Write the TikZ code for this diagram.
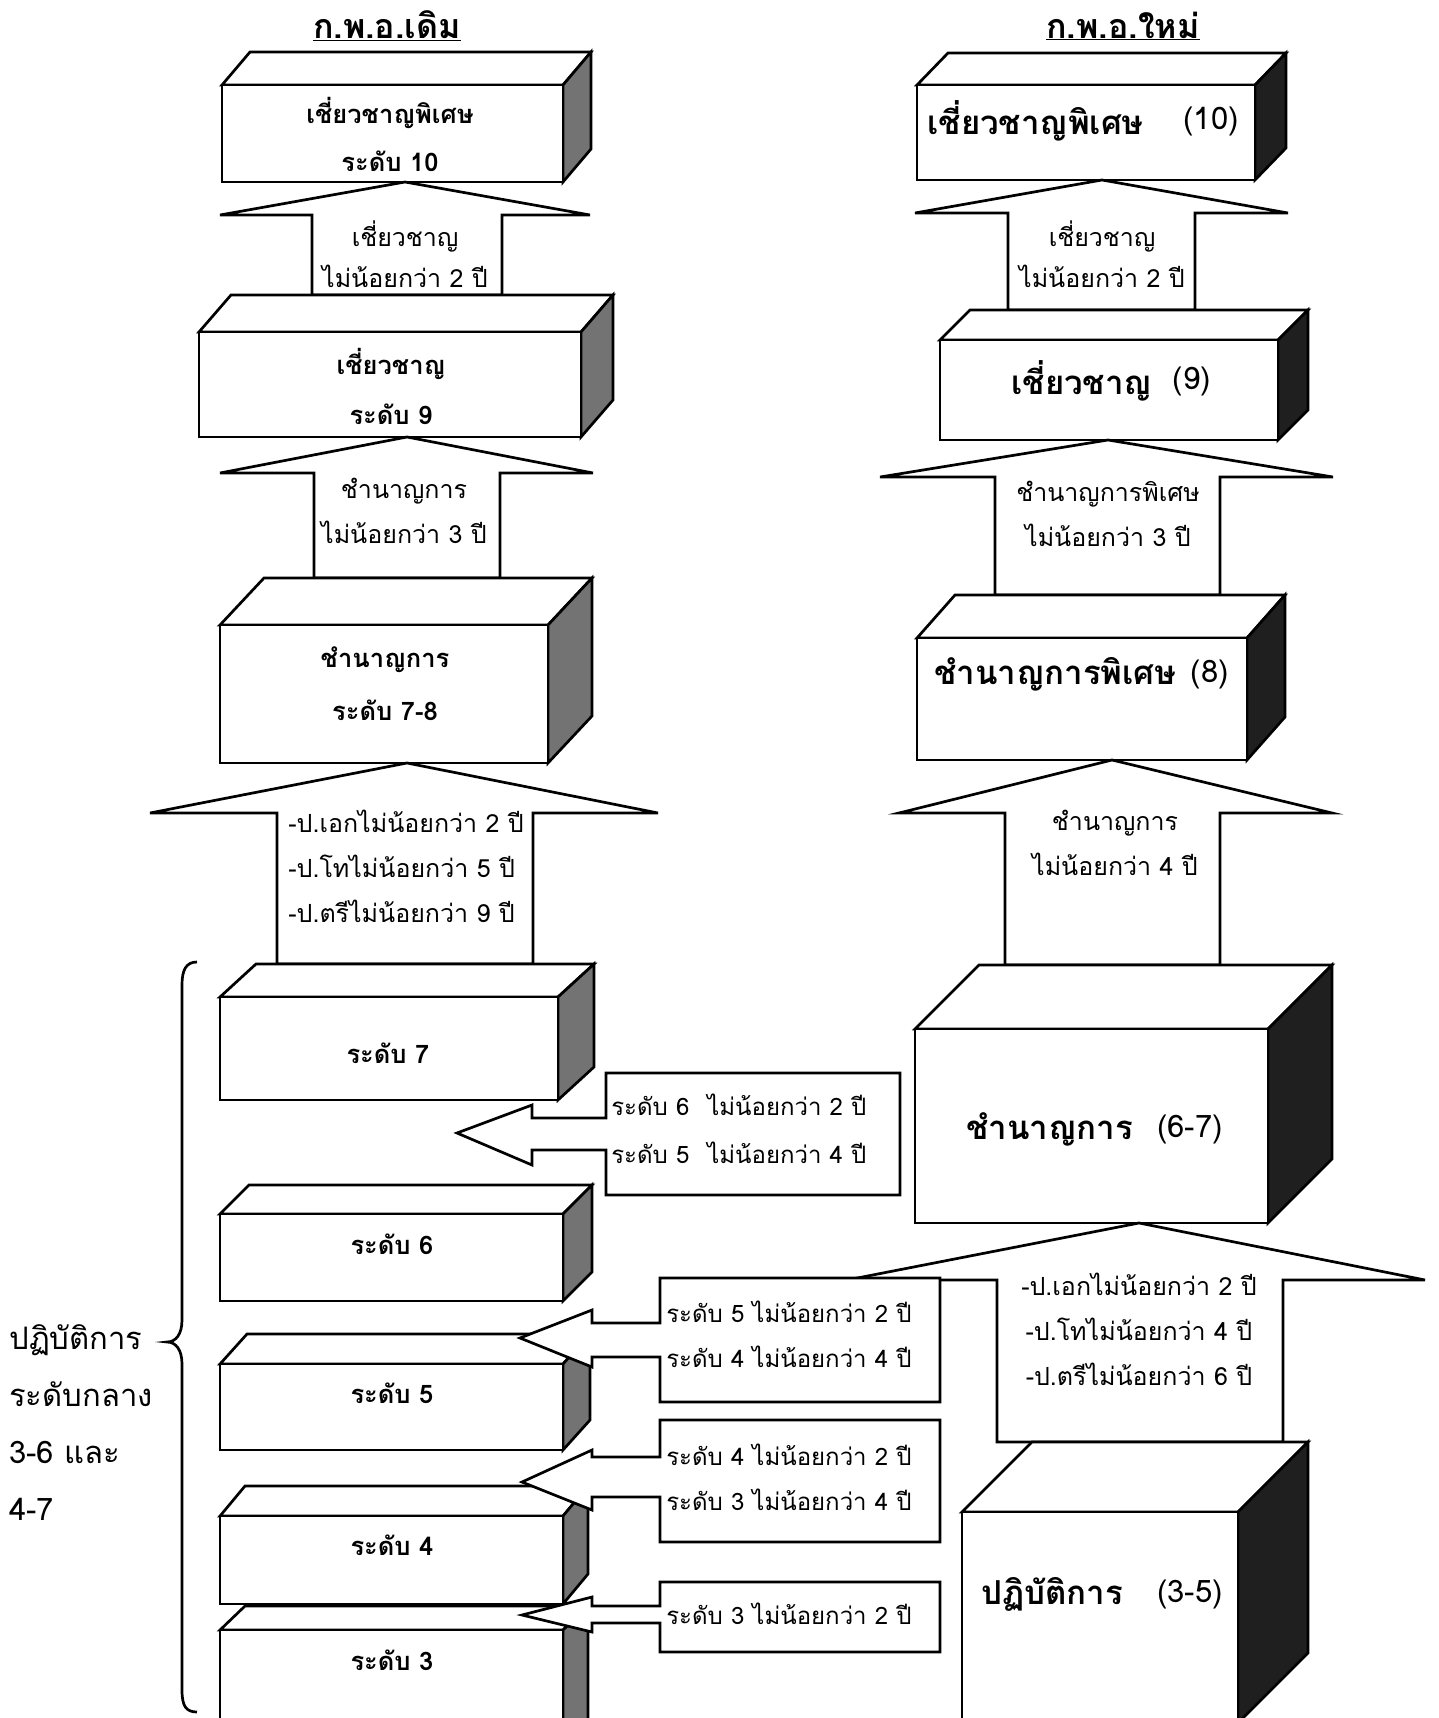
\documentclass[tikz,border=0pt]{standalone}
\usepackage{fontspec}
\setmainfont{Loma}[Script=Thai]
\usepackage{tikz}

% a block drawn in perspective: left, right, front top, bottom, depth, back top, side fill
\newcommand{\slab}[7]{%
  \filldraw[fill=white] (#1,#3) -- ({#1+#5},#6) -- ({#2+#5},#6) -- (#2,#3) -- cycle;
  \filldraw[#7] (#2,#3) -- ({#2+#5},#6) -- ({#2+#5},{#4-#3+#6}) -- (#2,#4) -- cycle;
  \filldraw[fill=white] (#1,#3) rectangle (#2,#4);}
% wide arrow pointing up: tip x, tip y, head base y, head left, head right, shaft left, shaft right, shaft end
\newcommand{\uparr}[8]{%
  \filldraw[fill=white] (#1,#2) -- (#5,#3) -- (#7,#3) -- (#7,#8) -- (#6,#8) -- (#6,#3) -- (#4,#3) -- cycle;}

\begin{document}
\begin{tikzpicture}[x=1pt, y=-1pt, line width=2.7pt, line join=miter,
    boxlbl/.style={font=\fontsize{25.5}{48}\selectfont\bfseries, align=center, inner sep=0pt},
    bigword/.style={font=\fontsize{33}{38}\selectfont\bfseries, anchor=west, inner sep=0pt},
    bignum/.style={font=\fontsize{31}{36}\selectfont, anchor=east, inner sep=0pt},
    arrlbl/.style={font=\fontsize{25}{45}\selectfont, align=center, inner sep=0pt},
    calllbl/.style={font=\fontsize{24}{45}\selectfont, align=left, anchor=west, inner sep=0pt},
    headlbl/.style={font=\fontsize{34}{38}\selectfont\bfseries, inner sep=0pt},
    bracelbl/.style={font=\fontsize{31}{57}\selectfont, align=left, anchor=west, inner sep=0pt},
    oldside/.style={fill=black!55},
    newside/.style={fill=black!88}]
  \useasboundingbox (0,0) rectangle (1439,1718);
  \clip (0,0) rectangle (1439,1718);

  % old scheme
  \slab{222}{563}{85}{182}{28}{52}{oldside}
  \uparr{405}{182}{215}{220}{590}{312}{502}{295}
  \slab{199}{581}{332}{437}{32}{295}{oldside}
  \uparr{407}{437}{473}{220}{593}{314}{500}{578}
  \slab{220}{548}{625}{763}{44}{578}{oldside}
  \uparr{407}{763}{813}{150}{658}{277}{533}{964}
  \slab{220}{558}{997}{1100}{36}{964}{oldside}
  \slab{220}{563}{1214}{1301}{29}{1185}{oldside}
  \slab{220}{563}{1364}{1450}{27}{1334}{oldside}
  \slab{220}{563}{1630}{1760}{25}{1606}{oldside}
  \slab{220}{563}{1516}{1604}{25}{1486}{oldside}

  % new scheme
  \slab{917}{1255}{85}{180}{31}{53}{newside}
  \uparr{1102}{180}{213}{915}{1288}{1008}{1195}{310}
  \slab{940}{1278}{340}{440}{30}{310}{newside}
  \uparr{1108}{440}{477}{880}{1333}{995}{1220}{595}
  \slab{917}{1247}{638}{760}{38}{595}{newside}
  \uparr{1112}{760}{813}{899}{1332}{1005}{1220}{965}
  \slab{915}{1268}{1029}{1223}{64}{965}{newside}
  \uparr{1139}{1223}{1280}{847}{1425}{997}{1283}{1442}
  \slab{962}{1238}{1512}{1723}{70}{1442}{newside}

  % arrows pointing back to the old levels
  \filldraw[fill=white] (457,1133) -- (532,1105) -- (532,1118) -- (606,1118) -- (606,1073)
    -- (900,1073) -- (900,1195) -- (606,1195) -- (606,1150) -- (532,1150) -- (532,1165) -- cycle;
  \filldraw[fill=white] (520,1338) -- (592,1310) -- (592,1323) -- (660,1323) -- (660,1278)
    -- (940,1278) -- (940,1402) -- (660,1402) -- (660,1357) -- (592,1357) -- (592,1367) -- cycle;
  \filldraw[fill=white] (522,1482) -- (592,1450) -- (592,1457) -- (660,1457) -- (660,1420)
    -- (940,1420) -- (940,1542) -- (660,1542) -- (660,1497) -- (592,1497) -- (592,1510) -- cycle;
  \filldraw[fill=white] (522,1615) -- (592,1597) -- (592,1606) -- (660,1606) -- (660,1582)
    -- (940,1582) -- (940,1652) -- (660,1652) -- (660,1623) -- (592,1623) -- (592,1632) -- cycle;

  % brace
  \draw (197,962) .. controls (186,962) and (182,970) .. (182,985) -- (182,1320)
    .. controls (182,1334) and (176,1342) .. (167,1342)
    .. controls (176,1342) and (182,1350) .. (182,1364) -- (182,1690)
    .. controls (182,1706) and (186,1712) .. (197,1712);

  % headings
  \node[headlbl] (oldhead) at (387,26) {\underline{ก.พ.อ.เดิม}};
  \node[headlbl] (newhead) at (1123,26) {\underline{ก.พ.อ.ใหม่}};

  % old labels
  \node[boxlbl] (o10) at (390,134) {เชี่ยวชาญพิเศษ\\ระดับ 10};
  \node[arrlbl, font=\fontsize{25}{41}\selectfont] (oa1) at (405,254) {เชี่ยวชาญ\\ไม่น้อยกว่า 2 ปี};
  \node[boxlbl, font=\fontsize{25.5}{50}\selectfont\bfseries] (o9) at (391,386) {เชี่ยวชาญ\\ระดับ 9};
  \node[arrlbl] (oa2) at (404,511) {ชำนาญการ\\ไม่น้อยกว่า 3 ปี};
  \node[boxlbl, font=\fontsize{25.5}{53}\selectfont\bfseries] (o78) at (385,684) {ชำนาญการ\\ระดับ 7-8};
  \node[arrlbl, align=left, anchor=west] (oa3) at (287,866)
    {-ป.เอกไม่น้อยกว่า 2 ปี\\-ป.โทไม่น้อยกว่า 5 ปี\\-ป.ตรีไม่น้อยกว่า 9 ปี};
  \node[boxlbl] (o7) at (388,1053) {ระดับ 7};
  \node[boxlbl] (o6) at (392,1244) {ระดับ 6};
  \node[boxlbl] (o5) at (392,1393) {ระดับ 5};
  \node[boxlbl] (o4) at (392,1545) {ระดับ 4};
  \node[boxlbl] (o3) at (392,1660) {ระดับ 3};

  \node[calllbl, font=\fontsize{24}{48}\selectfont] (c67) at (610,1129) {ระดับ 6\hspace{18pt}ไม่น้อยกว่า 2 ปี\\ระดับ 5\hspace{18pt}ไม่น้อยกว่า 4 ปี};
  \node[calllbl] (c56) at (665,1334) {ระดับ 5 ไม่น้อยกว่า 2 ปี\\ระดับ 4 ไม่น้อยกว่า 4 ปี};
  \node[calllbl] (c45) at (665,1477) {ระดับ 4 ไม่น้อยกว่า 2 ปี\\ระดับ 3 ไม่น้อยกว่า 4 ปี};
  \node[calllbl] (c34) at (665,1614) {ระดับ 3 ไม่น้อยกว่า 2 ปี};

  \node[bracelbl] (mid) at (8,1423) {ปฏิบัติการ\\ระดับกลาง\\3-6 และ\\4-7};

  % new labels
  \node[bigword] (n10) at (926,121) {เชี่ยวชาญพิเศษ};
  \node[bignum] (n10n) at (1240,121) {(10)};
  \node[arrlbl, font=\fontsize{25}{41}\selectfont] (na1) at (1102,254) {เชี่ยวชาญ\\ไม่น้อยกว่า 2 ปี};
  \node[bigword] (n9) at (1010,381) {เชี่ยวชาญ};
  \node[bignum] (n9n) at (1212,381) {(9)};
  \node[arrlbl] (na2) at (1108,514) {ชำนาญการพิเศษ\\ไม่น้อยกว่า 3 ปี};
  \node[bigword] (n8) at (933,674) {ชำนาญการพิเศษ};
  \node[bignum] (n8n) at (1230,674) {(8)};
  \node[arrlbl] (na3) at (1115,843) {ชำนาญการ\\ไม่น้อยกว่า 4 ปี};
  \node[bigword] (n67) at (965,1129) {ชำนาญการ};
  \node[bignum] (n67n) at (1224,1129) {(6-7)};
  \node[arrlbl] (na4) at (1139,1329)
    {-ป.เอกไม่น้อยกว่า 2 ปี\\-ป.โทไม่น้อยกว่า 4 ปี\\-ป.ตรีไม่น้อยกว่า 6 ปี};
  \node[bigword] (n35) at (980,1594) {ปฏิบัติการ};
  \node[bignum] (n35n) at (1224,1594) {(3-5)};
\end{tikzpicture}
\end{document}
